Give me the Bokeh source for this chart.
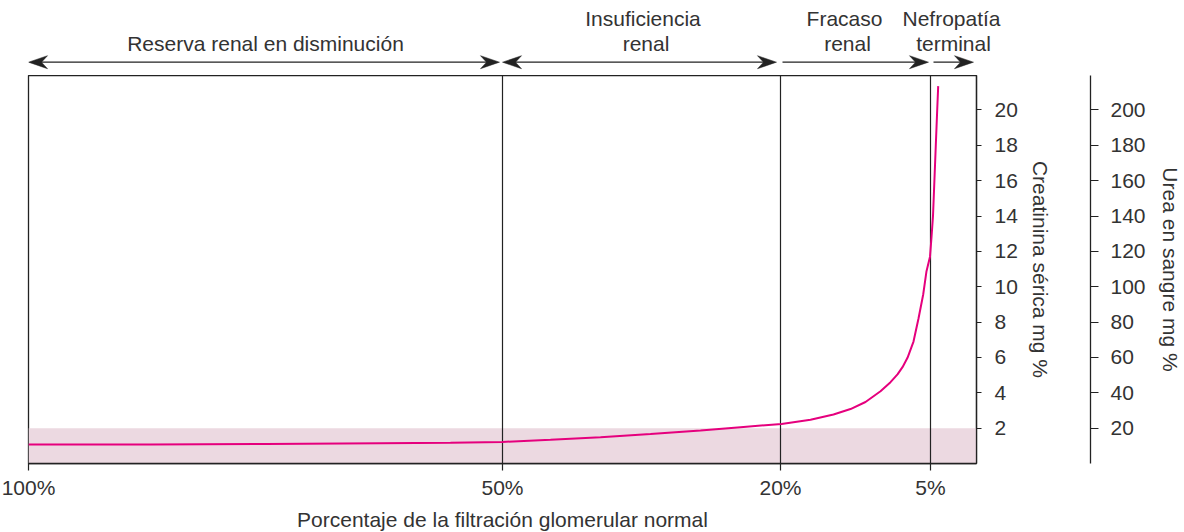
from bokeh.plotting import figure
from bokeh.layouts import column
from bokeh.models import LinearAxis, Range1d, FixedTicker, ColumnDataSource
from bokeh.embed import file_html
from bokeh.resources import INLINE
from bokeh.core.properties import value

# ---------------- data ----------------
# x axis: position units along the (non-linear) GFR axis
gfr_ticks = [0, 474, 752, 902]
gfr_labels = ["100%", "50%", "20%", "5%"]
x_end = 948

# serum creatinine curve (mg %), x in axis position units
curve_x = [0, 122, 237, 352, 422, 474, 522, 572, 622, 672, 712, 753, 782, 805, 822,
           837, 852, 862, 869, 874, 879, 885, 890, 894.7, 898, 901.5, 903, 904.5,
           905.9, 907.3, 908.7, 909.7]
curve_creat = [1.07, 1.08, 1.11, 1.15, 1.18, 1.22, 1.34, 1.49, 1.67, 1.87, 2.05, 2.24,
               2.48, 2.77, 3.08, 3.48, 4.09, 4.6, 5.04, 5.45, 5.98, 6.9, 8.2, 9.56,
               10.88, 11.7, 12.8, 14.0, 16.0, 18.0, 20.0, 21.35]

normal_creat_max = 2
creat_ticks = [2, 4, 6, 8, 10, 12, 14, 16, 18, 20]
urea_ticks = [20, 40, 60, 80, 100, 120, 140, 160, 180, 200]
urea_per_creat = 10
y_top = 21.95

stage_line1 = ["Reserva renal en disminución", "Insuficiencia", "Fracaso", "Nefropatía"]
stage_line2 = ["", "renal", "renal", "terminal"]

FONT = "Liberation Sans"
FS = "21px"
TXT = "#333333"
INK = "#222222"

# ---------------- header (stage arrows) ----------------
HEAD_H = 75
hdr = figure(frame_width=1040, frame_height=HEAD_H, output_backend="svg",
             toolbar_location=None, x_range=Range1d(0, 1040), y_range=Range1d(HEAD_H, 0),
             x_axis_type=None, y_axis_type=None, min_border_left=28, min_border_top=0,
             min_border_right=0, min_border_bottom=0)
hdr.outline_line_color = None
hdr.grid.visible = False

bounds = gfr_ticks + [x_end]
arrow_y = 61.7
start_gap = [0, 0, 2, 3]
end_gap = [3, 4, 2, 3]
both = [True, True, False, False]
L, W, N = 19, 6.5, 6
sx0, sx1, hx, hy = [], [], [], []
for i in range(4):
    xs = bounds[i] + start_gap[i]
    xe = bounds[i + 1] - end_gap[i]
    sx0.append(xs + (N if both[i] else 0))
    sx1.append(xe - N)
    hx.append([xe, xe - L, xe - L + N, xe - L])
    hy.append([arrow_y, arrow_y - W, arrow_y, arrow_y + W])
    if both[i]:
        hx.append([xs, xs + L, xs + L - N, xs + L])
        hy.append([arrow_y, arrow_y - W, arrow_y, arrow_y + W])
hdr.segment(x0=sx0, y0=[arrow_y] * 4, x1=sx1, y1=[arrow_y] * 4, line_color=INK, line_width=1.3)
hdr.patches(hx, hy, fill_color=INK, line_color=INK, line_width=0.5)

mid = [(bounds[i] + bounds[i + 1]) / 2 for i in range(4)]
dx1 = [0, 1.5, -11, -2]
dx2 = [0, 4.5, -8, 0]
row1_y, row2_y = 18, 43
src1 = ColumnDataSource(dict(x=[m + d for m, d in zip(mid, dx1)],
                             y=[row2_y, row1_y, row1_y, row1_y], t=stage_line1))
src2 = ColumnDataSource(dict(x=[m + d for m, d in zip(mid, dx2)], y=[row2_y] * 4, t=stage_line2))
for s in (src1, src2):
    hdr.text(x="x", y="y", text="t", source=s, text_font=value(FONT), text_font_size=FS,
             text_color=TXT, text_align="center", text_baseline="alphabetic")

# ---------------- main chart ----------------
p = figure(frame_width=948, frame_height=388, output_backend="svg", toolbar_location=None,
           x_range=Range1d(0, x_end), y_range=Range1d(0, y_top),
           y_axis_type=None, min_border_left=28, min_border_top=0,
           min_border_right=0, min_border_bottom=0)
p.outline_line_color = INK
p.outline_line_width = 1.3
p.outline_line_alpha = 1
p.grid.visible = False
p.background_fill_color = "white"
p.border_fill_color = "white"

p.quad(left=0, right=x_end, bottom=0, top=normal_creat_max,
       fill_color="#ecd9e1", line_color=None)
p.segment(x0=gfr_ticks[1:], y0=[0] * 3, x1=gfr_ticks[1:], y1=[y_top] * 3,
          line_color=INK, line_width=1.2)
p.line(curve_x, curve_creat, line_color="#e5007d", line_width=2)


def style_axis(ax):
    ax.major_label_text_font = FONT
    ax.major_label_text_font_size = FS
    ax.major_label_text_color = TXT
    ax.major_label_text_line_height = 1.0
    ax.axis_label_text_font = FONT
    ax.axis_label_text_font_size = FS
    ax.axis_label_text_color = TXT
    ax.axis_label_text_font_style = "normal"
    ax.axis_label_text_line_height = 1.0


xa = p.xaxis[0]
xa.ticker = FixedTicker(ticks=gfr_ticks)
xa.major_label_overrides = {t: l for t, l in zip(gfr_ticks, gfr_labels)}
xa.axis_label = "Porcentaje de la filtración glomerular normal"
xa.minor_tick_line_color = None
xa.major_tick_in = 0
xa.major_tick_out = 7
xa.major_label_standoff = 5
xa.axis_label_standoff = 6
xa.axis_line_color = INK
xa.axis_line_width = 1.3
xa.major_tick_line_color = INK
xa.major_tick_line_width = 1.2
style_axis(xa)

ca = LinearAxis(ticker=FixedTicker(ticks=creat_ticks), axis_label="Creatinina sérica mg %",
                major_tick_out=5, major_tick_in=0, minor_tick_line_color=None,
                major_label_standoff=13, axis_label_standoff=8,
                axis_line_color=INK, axis_line_width=1.3, major_tick_line_color=INK)
style_axis(ca)
p.add_layout(ca, "right")

sp = LinearAxis(ticker=FixedTicker(ticks=[5]), major_tick_out=36, major_tick_in=0,
                minor_tick_line_color=None, axis_line_color=None, major_tick_line_alpha=0,
                major_label_text_alpha=0, major_label_text_font_size="1px",
                major_label_standoff=0)
p.add_layout(sp, "right")

p.extra_y_ranges = {"urea": Range1d(0, y_top * urea_per_creat)}
ua = LinearAxis(y_range_name="urea", ticker=FixedTicker(ticks=urea_ticks),
                axis_label="Urea en sangre mg %", major_tick_out=8, major_tick_in=0,
                minor_tick_line_color=None, major_label_standoff=12, axis_label_standoff=10,
                axis_line_color=INK, axis_line_width=1.3, major_tick_line_color=INK)
style_axis(ua)
p.add_layout(ua, "right")

layout = column(hdr, p, spacing=0)
open("out.html", "w").write(file_html(layout, INLINE))
